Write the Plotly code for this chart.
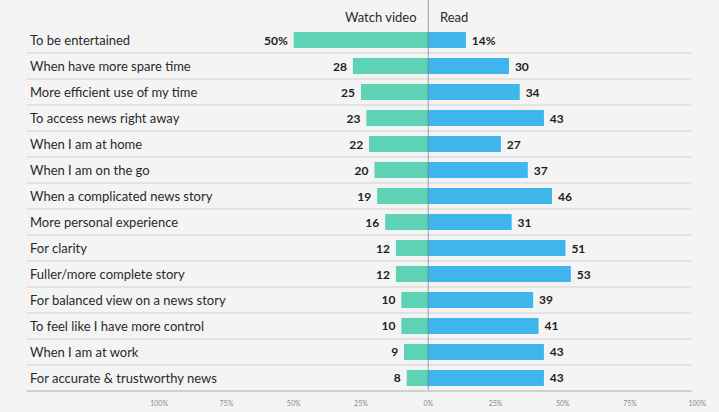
import plotly.graph_objects as go

# Reasons for preferring each format (share of respondents, %)
reasons = [
    "To be entertained",
    "When have more spare time",
    "More efficient use of my time",
    "To access news right away",
    "When I am at home",
    "When I am on the go",
    "When a complicated news story",
    "More personal experience",
    "For clarity",
    "Fuller/more complete story",
    "For balanced view on a news story",
    "To feel like I have more control",
    "When I am at work",
    "For accurate & trustworthy news",
]
watch_video = [50, 28, 25, 23, 22, 20, 19, 16, 12, 12, 10, 10, 9, 8]
read = [14, 30, 34, 43, 27, 37, 46, 31, 51, 53, 39, 41, 43, 43]

tick_vals = [-100, -75, -50, -25, 0, 25, 50, 75, 100]
tick_text = ["100%", "75%", "50%", "25%", "0%", "25%", "50%", "75%", "100%"]

GREEN = "#5ed2b4"
BLUE = "#3eb6ec"
TEXT = "#2a2a2a"
BG = "#f4f4f4"
FONT = "Lato, 'Open Sans', sans-serif"

W, H = 719, 412
rows = list(range(len(reasons)))
NBSP = "\u00a0"


def label(v, i):
    return f"{v}%" if i == 0 else str(v)


fig = go.Figure()
fig.add_trace(go.Bar(
    y=rows, x=[-v for v in watch_video], orientation="h",
    marker=dict(color=GREEN, line=dict(width=0)),
    text=[label(v, i) + NBSP for i, v in enumerate(watch_video)],
    textposition="outside", cliponaxis=False,
    textfont=dict(family=FONT, size=12, color="#1e1e1e", weight="bold"),
    name="Watch video", hoverinfo="skip",
))
fig.add_trace(go.Bar(
    y=rows, x=read, orientation="h",
    marker=dict(color=BLUE, line=dict(width=0)),
    text=[NBSP + label(v, i) for i, v in enumerate(read)],
    textposition="outside", cliponaxis=False,
    textfont=dict(family=FONT, size=12, color="#1e1e1e", weight="bold"),
    name="Read", hoverinfo="skip",
))

annotations = []
for i, r in enumerate(reasons):
    annotations.append(dict(
        text=r, x=20 / W, xref="paper", y=i, yref="y",
        xanchor="left", yanchor="middle", showarrow=False,
        font=dict(family=FONT, size=13, color=TEXT),
    ))
annotations.append(dict(text="Watch video", x=-3.5, xref="x", y=-0.9, yref="y",
                        xanchor="right", yanchor="middle", showarrow=False,
                        font=dict(family=FONT, size=13, color=TEXT)))
annotations.append(dict(text="Read", x=3.5, xref="x", y=-0.9, yref="y",
                        xanchor="left", yanchor="middle", showarrow=False,
                        font=dict(family=FONT, size=13, color=TEXT)))

shapes = []
# row separators
for i in rows:
    shapes.append(dict(type="line", xref="paper", yref="y",
                       x0=18 / W, x1=700 / W, y0=i + 0.5, y1=i + 0.5,
                       line=dict(color="#dcdcdc" if i < len(rows) - 1 else "#c4c4c4", width=1.5),
                       layer="below"))
# centre divider
shapes.append(dict(type="line", xref="x", yref="paper", x0=0, x1=0, y0=0.02, y1=1,
                   line=dict(color="rgba(90,90,90,0.55)", width=1), layer="above"))

fig.update_layout(
    width=W, height=H,
    margin=dict(l=0, r=0, t=0, b=14),
    paper_bgcolor=BG, plot_bgcolor=BG,
    barmode="relative", bargap=0.38,
    showlegend=False,
    font=dict(family=FONT, color=TEXT),
    annotations=annotations, shapes=shapes,
    xaxis=dict(domain=[154 / W, 706 / W], range=[-100, 100],
               tickvals=tick_vals, ticktext=tick_text,
               tickfont=dict(size=7, color="#8a8a8a", family=FONT),
               showgrid=False, zeroline=False, showline=False, ticks=""),
    yaxis=dict(range=[13.77, -1.54], showticklabels=False, showgrid=False,
               zeroline=False, showline=False, ticks=""),
)

fig.write_html("out.html")
